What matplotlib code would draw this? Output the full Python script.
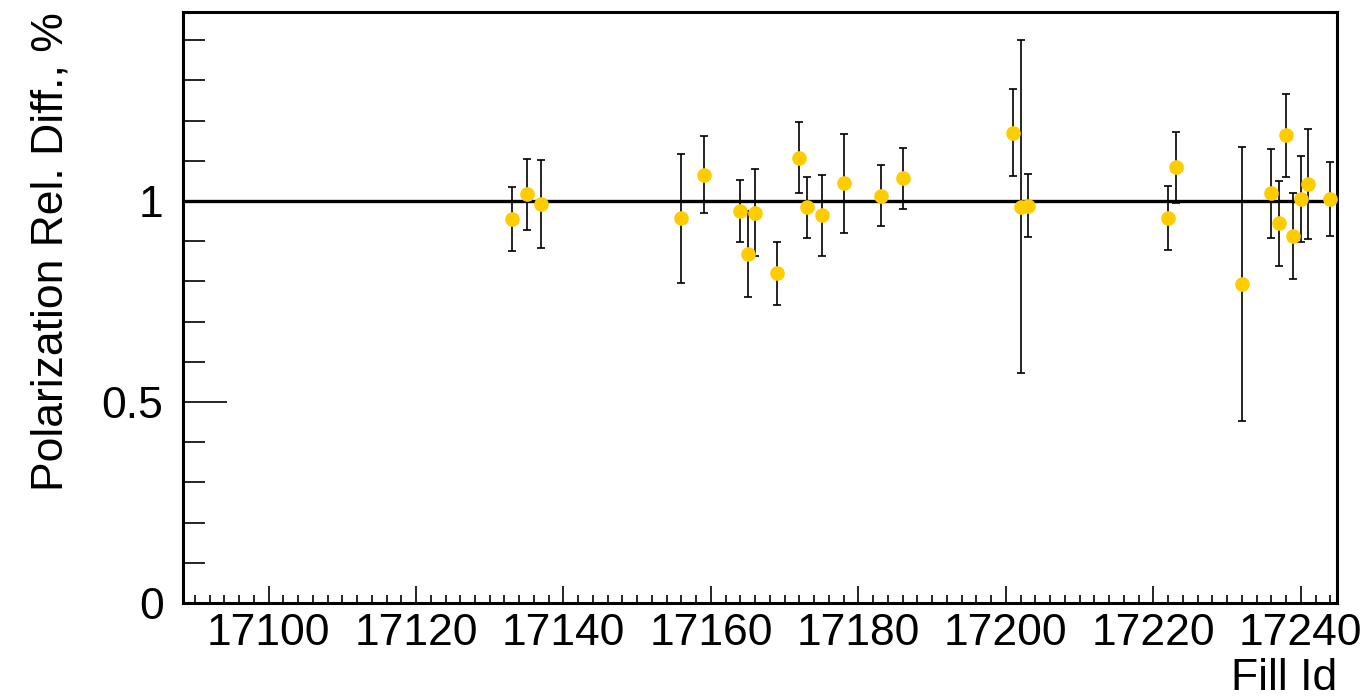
import matplotlib
matplotlib.use("Agg")
import matplotlib.pyplot as plt
from matplotlib.ticker import MultipleLocator

plt.rcParams['font.family'] = ['Liberation Sans', 'DejaVu Sans']

# fill numbers and relative difference
fill_id = [17133, 17135, 17137, 17156, 17159, 17164, 17165, 17166, 17169,
           17172, 17173, 17175, 17178, 17183, 17186, 17201, 17202, 17203,
           17222, 17223, 17232, 17236, 17237, 17238, 17239, 17240, 17241,
           17244]
rel_diff = [0.955, 1.017, 0.992, 0.957, 1.065, 0.974, 0.867, 0.971, 0.820,
            1.108, 0.984, 0.964, 1.044, 1.013, 1.056, 1.170, 0.986, 0.988,
            0.957, 1.084, 0.793, 1.019, 0.944, 1.163, 0.913, 1.005, 1.043,
            1.005]
rel_err = [0.080, 0.088, 0.110, 0.160, 0.096, 0.077, 0.107, 0.108, 0.079,
           0.088, 0.076, 0.101, 0.123, 0.076, 0.075, 0.109, 0.414, 0.078,
           0.080, 0.088, 0.341, 0.111, 0.105, 0.103, 0.106, 0.106, 0.137,
           0.091]

x_range = (17088.4, 17244.9)
y_range = (0.0, 1.47)

fig = plt.figure(figsize=(13.67, 6.98), dpi=100)
ax = fig.add_axes([183 / 1367, 1 - 603 / 698, 1154 / 1367, 591 / 698])

ax.axhline(1.0, color='black', lw=2.4, zorder=1)
ax.errorbar(fill_id, rel_diff, yerr=rel_err, fmt='o', color='#ffcc00',
            ms=9.5, mec='#ffcc00', ecolor='black', elinewidth=1.2,
            capsize=3, capthick=1.2, zorder=3, clip_on=True)

ax.set_xlim(*x_range)
ax.set_ylim(*y_range)

ax.xaxis.set_major_locator(MultipleLocator(20))
ax.xaxis.set_minor_locator(MultipleLocator(2))
ax.yaxis.set_major_locator(MultipleLocator(0.5))
ax.yaxis.set_minor_locator(MultipleLocator(0.1))
ax.yaxis.set_major_formatter(plt.FuncFormatter(lambda v, p: f'{v:g}'))

ax.tick_params(axis='both', which='both', direction='in', top=False,
               right=False, labelsize=32, width=1.2, color='black')
ax.tick_params(axis='x', which='major', length=12, pad=7)
ax.tick_params(axis='x', which='minor', length=6)
ax.tick_params(axis='y', which='major', length=32, pad=14)
ax.tick_params(axis='y', which='minor', length=16)

for sp in ax.spines.values():
    sp.set_linewidth(2.2)

ax.set_xlabel('Fill Id', fontsize=32, loc='right', labelpad=3)
ax.set_ylabel('Polarization Rel. Diff., %', fontsize=32, loc='top',
              labelpad=22)

fig.savefig('out.png', dpi=100)
